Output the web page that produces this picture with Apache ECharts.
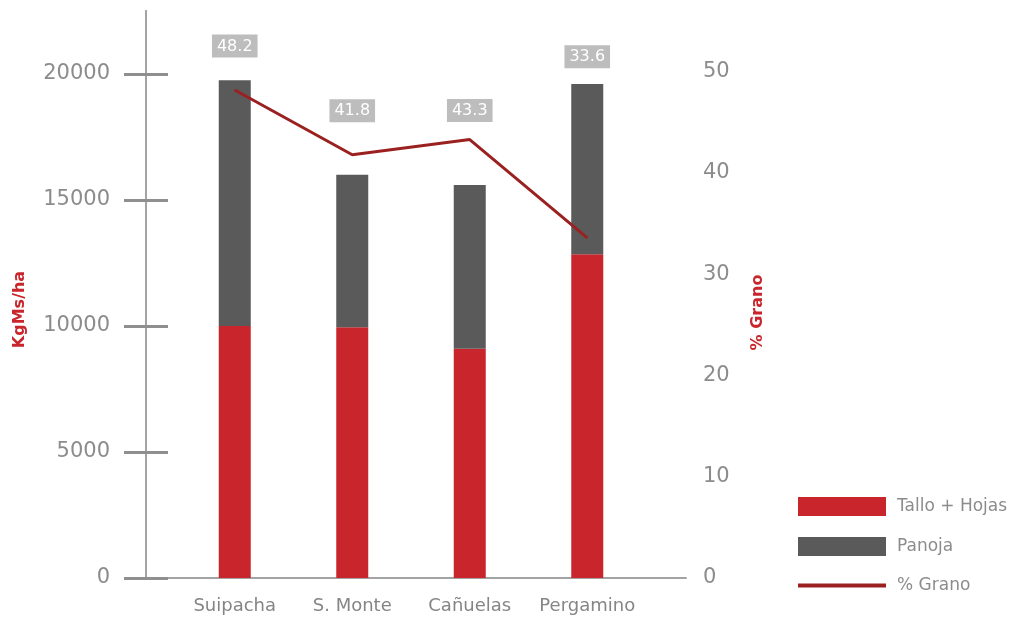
<!DOCTYPE html>
<html>
<head>
<meta charset="utf-8">
<style>html,body{margin:0;padding:0;background:#fff}#c{width:1017px;height:623px}</style>
<script src="https://cdn.jsdelivr.net/npm/echarts@6/dist/echarts.min.js"></script>
</head>
<body>
<div id="c"></div>
<script>
const categories = ['Suipacha', 'S. Monte', 'Cañuelas', 'Pergamino'];
const tallo = [10000, 9950, 9100, 12850];
const panoja = [9750, 6050, 6500, 6750];
const grano = [48.2, 41.8, 43.3, 33.6];
const leftTicks = [0, 5000, 10000, 15000, 20000];
const rightTicks = [0, 10, 20, 30, 40, 50];

const labelDist = [32, 32, 17, 169];
const grey = '#8c8c8c';
const font = 'DejaVu Sans';
const plain = v => String(v);

const chart = echarts.init(document.getElementById('c'));
chart.setOption({
  animation: false,
  textStyle: { fontFamily: font },
  grid: [
    { left: 176, right: 371, top: 11, bottom: 45 },
    { left: 146, right: 331, top: 11, bottom: 45 }
  ],
  legend: {
    orient: 'vertical', left: 793, top: 492,
    itemWidth: 88, itemHeight: 19, itemGap: 21,
    textStyle: { color: grey, fontSize: 17, fontFamily: font, padding: [0, 0, 0, 6] },
    data: [{ name: 'Tallo + Hojas', icon: 'rect' }, { name: 'Panoja', icon: 'rect' },
           { name: '% Grano', icon: 'path://M0,0H88V4H0Z' }]
  },
  xAxis: [
    { type: 'category', gridIndex: 0, data: categories,
      axisLine: { show: false }, axisTick: { show: false },
      axisLabel: { color: '#858585', fontSize: 18, margin: 19, interval: 0, fontFamily: font } },
    { type: 'value', gridIndex: 1, min: 0, max: 1,
      axisLine: { show: true, lineStyle: { color: '#a3a3a3', width: 2 } },
      axisTick: { show: false }, axisLabel: { show: false }, splitLine: { show: false } }
  ],
  yAxis: [
    { type: 'value', gridIndex: 0, min: 0, max: 22500, show: false, splitLine: { show: false } },
    { type: 'value', gridIndex: 0, min: 0, max: 56, show: false, splitLine: { show: false } },
    { type: 'value', gridIndex: 1, position: 'left', min: 0, max: 22500,
      name: 'KgMs/ha', nameLocation: 'middle', nameRotate: 90, nameGap: 118,
      nameTextStyle: { color: '#c8262c', fontSize: 16, fontWeight: 'bold', fontFamily: font, padding: [0, 30, 0, 0] },
      axisLine: { show: true, lineStyle: { color: '#a3a3a3', width: 2 } },
      axisTick: { show: true, length: 22, customValues: leftTicks, lineStyle: { color: '#8f8f8f', width: 3 } },
      axisLabel: { color: grey, fontSize: 21, margin: 36, customValues: leftTicks, formatter: plain, padding: [0, 0, 12, 0] },
      splitLine: { show: false } },
    { type: 'value', gridIndex: 1, position: 'left', min: 0, max: 22500,
      axisLine: { show: true, lineStyle: { color: '#a3a3a3', width: 2 } },
      axisTick: { show: true, inside: true, length: 22, customValues: leftTicks, lineStyle: { color: '#8f8f8f', width: 3 } },
      axisLabel: { show: false }, splitLine: { show: false } },
    { type: 'value', gridIndex: 1, position: 'right', min: 0, max: 56,
      name: '% Grano', nameLocation: 'middle', nameRotate: 90, nameGap: 64,
      nameTextStyle: { color: '#c8262c', fontSize: 16, fontWeight: 'bold', fontFamily: font, padding: [0, 36, 0, 0] },
      axisLine: { show: false }, axisTick: { show: false },
      axisLabel: { color: grey, fontSize: 21, margin: 17, customValues: rightTicks, formatter: plain, padding: [0, 0, 12, 0] },
      splitLine: { show: false } }
  ],
  series: [
    { name: 'Tallo + Hojas', type: 'bar', stack: 't', xAxisIndex: 0, yAxisIndex: 0,
      barWidth: 32, data: tallo, itemStyle: { color: '#c8262c' } },
    { name: 'Panoja', type: 'bar', stack: 't', xAxisIndex: 0, yAxisIndex: 0,
      barWidth: 32, data: panoja, itemStyle: { color: '#5a5a5a' } },
    { name: '% Grano', type: 'line', xAxisIndex: 0, yAxisIndex: 1, z: 5,
      symbol: 'circle', symbolSize: 1,
      lineStyle: { color: '#9b2121', width: 3 }, itemStyle: { color: '#9b2121' },
      data: grano.map((v, i) => ({
        value: v,
        label: { show: true, position: 'top', distance: labelDist[i] }
      })),
      label: { show: true, formatter: p => p.value.toFixed(1), color: '#fff', fontSize: 16,
        backgroundColor: '#bdbdbd', padding: [4, 5, 3, 5], fontFamily: font } }
  ]
});
</script>
</body>
</html>
